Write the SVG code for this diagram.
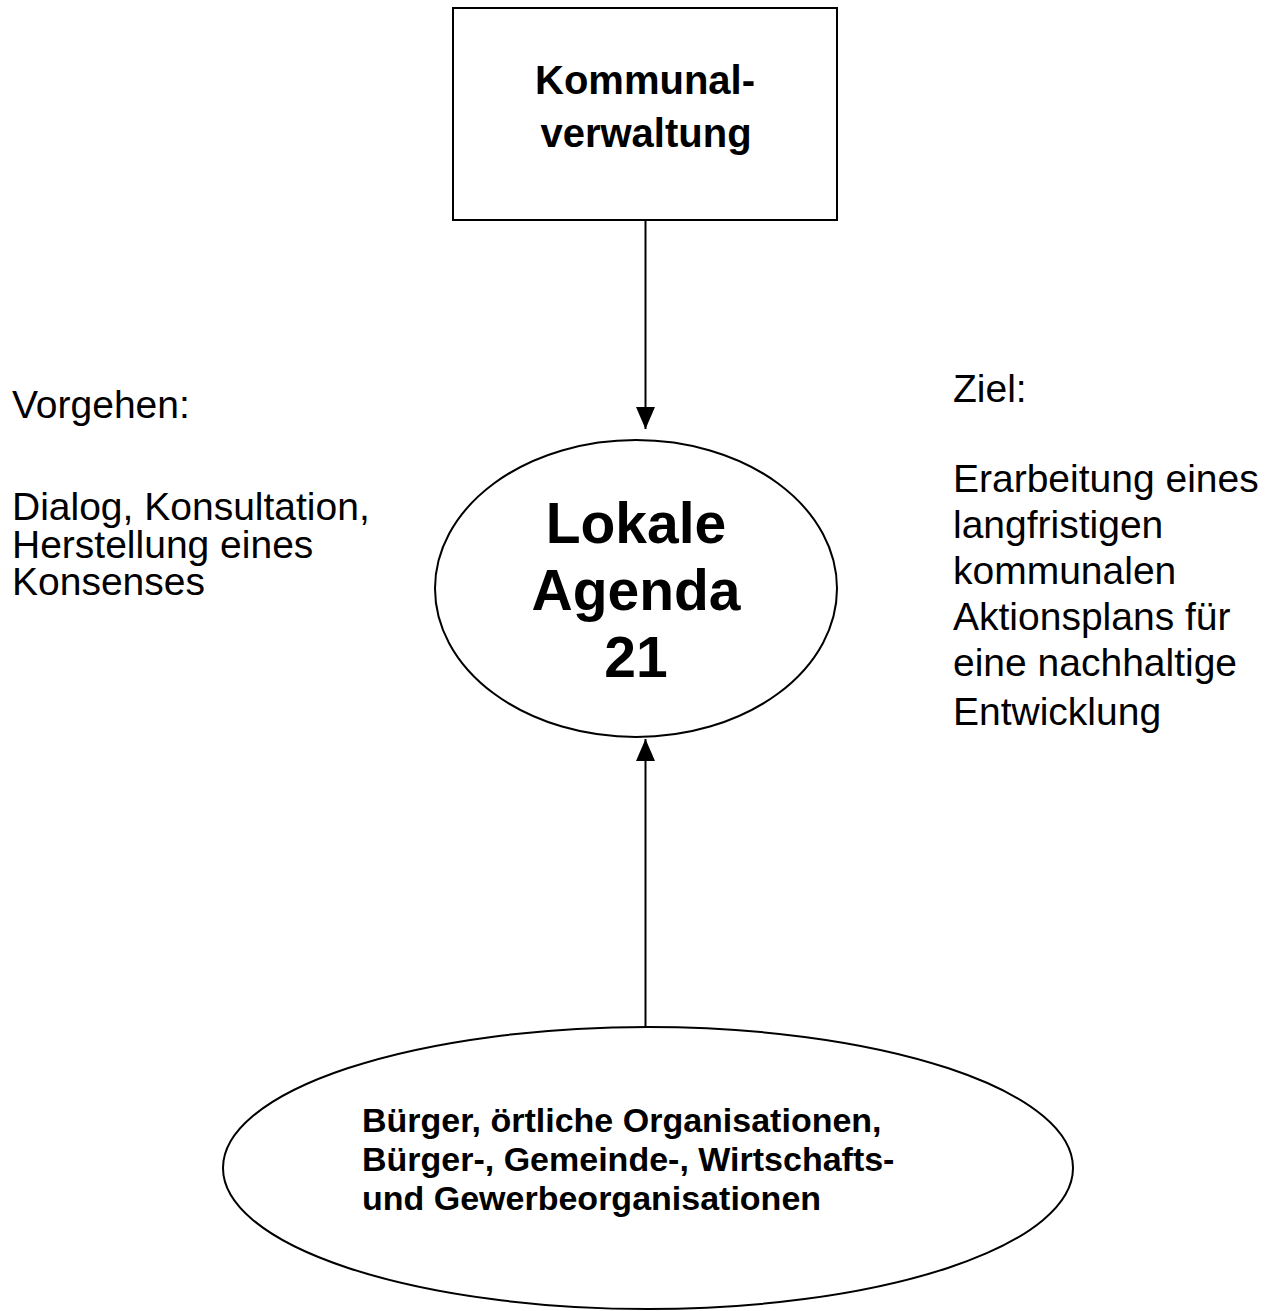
<svg xmlns="http://www.w3.org/2000/svg" width="1281" height="1311" viewBox="0 0 1281 1311">
<style>
.shape{fill:#fff;stroke:#000;stroke-width:2}
.conn{stroke:#000;stroke-width:2;fill:none}
.t{font-family:"Liberation Sans",Arial,sans-serif;fill:#000}
.b{font-weight:bold}
</style>
<defs>
<marker id="arr" viewBox="0 0 22 19" refX="22" refY="9.5" markerWidth="22" markerHeight="19" markerUnits="userSpaceOnUse" orient="auto">
<path d="M0,0 L22,9.5 L0,19 Z" fill="#000"/>
</marker>
</defs>
<rect width="1281" height="1311" fill="#fff"/>
<g id="kommunalverwaltung">
<rect class="shape" x="453" y="8" width="384" height="212"/>
<text class="t b" font-size="40" text-anchor="middle"><tspan x="645" y="94">Kommunal-</tspan><tspan x="646" y="147">verwaltung</tspan></text>
</g>
<g id="agenda">
<ellipse class="shape" cx="636" cy="588.5" rx="201" ry="148.5"/>
<text class="t b" font-size="57" text-anchor="middle"><tspan x="636" y="543">Lokale</tspan><tspan x="636" y="610">Agenda</tspan><tspan x="636" y="677">21</tspan></text>
</g>
<g id="buerger">
<ellipse class="shape" cx="648" cy="1168" rx="425" ry="141"/>
<text class="t b" font-size="34"><tspan x="362" y="1132">Bürger, örtliche Organisationen,</tspan><tspan x="362" y="1171">Bürger-, Gemeinde-, Wirtschafts-</tspan><tspan x="362" y="1210">und Gewerbeorganisationen</tspan></text>
</g>
<g id="vorgehen">
<text class="t" font-size="39"><tspan x="12" y="418">Vorgehen:</tspan><tspan x="12" y="520">Dialog, Konsultation,</tspan><tspan x="12" y="558">Herstellung eines</tspan><tspan x="12" y="595">Konsenses</tspan></text>
</g>
<g id="ziel">
<text class="t" font-size="39"><tspan x="953" y="402">Ziel:</tspan><tspan x="953" y="492">Erarbeitung eines</tspan><tspan x="953" y="538">langfristigen</tspan><tspan x="953" y="584">kommunalen</tspan><tspan x="953" y="630">Aktionsplans für</tspan><tspan x="953" y="676">eine nachhaltige</tspan><tspan x="953" y="725">Entwicklung</tspan></text>
</g>
<g id="connectors">
<line class="conn" x1="645.5" y1="220" x2="645.5" y2="429" marker-end="url(#arr)"/>
<line class="conn" x1="645.5" y1="1027" x2="645.5" y2="739" marker-end="url(#arr)"/>
</g>
</svg>
